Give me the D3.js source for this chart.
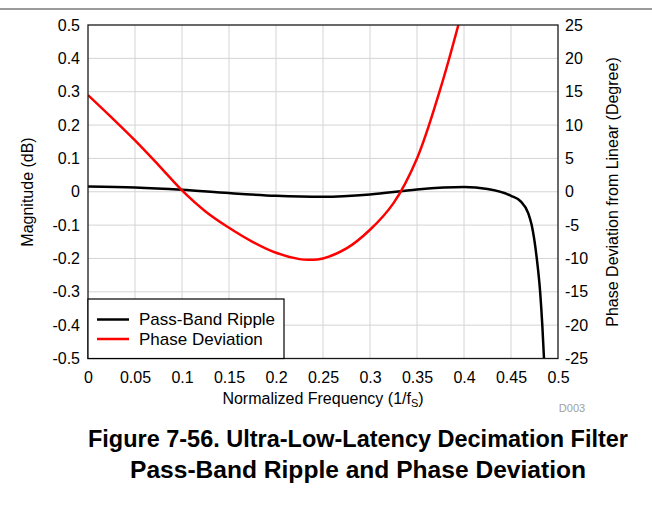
<!DOCTYPE html>
<html>
<head>
<meta charset="utf-8">
<script src="https://cdn.jsdelivr.net/npm/d3@7"></script>
<style>
  html, body { margin: 0; padding: 0; background: #fff; }
  svg { display: block; font-family: "Liberation Sans", Arial, Helvetica, sans-serif; }
</style>
</head>
<body>
<svg id="chart" width="652" height="512"></svg>
<script>
// ---- Data ----
const xTickValues = [0, 0.05, 0.1, 0.15, 0.2, 0.25, 0.3, 0.35, 0.4, 0.45, 0.5];
const xTickLabels = ["0", "0.05", "0.1", "0.15", "0.2", "0.25", "0.3", "0.35", "0.4", "0.45", "0.5"];
const yLeftTickValues = [-0.5, -0.4, -0.3, -0.2, -0.1, 0, 0.1, 0.2, 0.3, 0.4, 0.5];
const yLeftTickLabels = ["-0.5", "-0.4", "-0.3", "-0.2", "-0.1", "0", "0.1", "0.2", "0.3", "0.4", "0.5"];
const yRightTickValues = [-25, -20, -15, -10, -5, 0, 5, 10, 15, 20, 25];
const yRightTickLabels = ["-25", "-20", "-15", "-10", "-5", "0", "5", "10", "15", "20", "25"];

// Pass-band ripple (dB) vs normalized frequency
const rippleFreq = [0, 0.05, 0.1, 0.15, 0.2, 0.25, 0.3, 0.35, 0.4, 0.425, 0.45, 0.46, 0.4684, 0.472, 0.4773, 0.481, 0.4833, 0.4851];
const rippleDb   = [0.016, 0.013, 0.006, -0.004, -0.012, -0.015, -0.008, 0.007, 0.014, 0.008, -0.012, -0.028, -0.065, -0.10, -0.197, -0.30, -0.40, -0.5];

// Phase deviation from linear (degree) vs normalized frequency
const phaseFreq = [0, 0.025, 0.05, 0.075, 0.1, 0.125, 0.15, 0.175, 0.2, 0.225, 0.235, 0.25, 0.275, 0.3, 0.325, 0.35, 0.375, 0.394];
const phaseDeg  = [14.5, 11.15, 7.7, 4.0, 0.2, -2.95, -5.4, -7.5, -9.15, -10.1, -10.2, -10.0, -8.5, -5.7, -1.7, 5.0, 15.5, 25];

const seriesNames = ["Pass-Band Ripple", "Phase Deviation"];
const seriesColors = ["#000000", "#ff0000"];

// ---- Layout ----
const svg = d3.select("#chart");
const plot = { left: 88, right: 558, top: 25, bottom: 358.5 };

const x = d3.scaleLinear().domain([0, 0.5]).range([plot.left, plot.right]);
const yL = d3.scaleLinear().domain([-0.5, 0.5]).range([plot.bottom, plot.top]);
const yR = d3.scaleLinear().domain([-25, 25]).range([plot.bottom, plot.top]);

// top rule
svg.append("line").attr("x1", 0).attr("x2", 652).attr("y1", 9).attr("y2", 9)
  .attr("stroke", "#7a7a7a").attr("stroke-width", 1.5);

// grid
const grid = svg.append("g");
grid.selectAll(".vg").data(xTickValues.slice(1, -1)).enter().append("line")
  .attr("x1", d => x(d)).attr("x2", d => x(d))
  .attr("y1", plot.top).attr("y2", plot.bottom)
  .attr("stroke", "#d4d4d4").attr("stroke-width", 1);
grid.selectAll(".hg").data(yLeftTickValues.slice(1, -1)).enter().append("line")
  .attr("x1", plot.left).attr("x2", plot.right)
  .attr("y1", d => yL(d)).attr("y2", d => yL(d))
  .attr("stroke", "#d4d4d4").attr("stroke-width", 1);

// axes (labels only)
const fontSize = 16;
const axL = svg.append("g").attr("transform", `translate(${plot.left},0)`)
  .call(d3.axisLeft(yL).tickValues(yLeftTickValues).tickSize(0).tickPadding(8)
    .tickFormat((d, i) => yLeftTickLabels[i]));
const axR = svg.append("g").attr("transform", `translate(${plot.right},0)`)
  .call(d3.axisRight(yR).tickValues(yRightTickValues).tickSize(0).tickPadding(7)
    .tickFormat((d, i) => yRightTickLabels[i]));
const axB = svg.append("g").attr("transform", `translate(0,${plot.bottom})`)
  .call(d3.axisBottom(x).tickValues(xTickValues).tickSize(0).tickPadding(13)
    .tickFormat((d, i) => xTickLabels[i]));
[axL, axR, axB].forEach(a => {
  a.select(".domain").remove();
  a.selectAll("text").attr("font-size", fontSize).attr("fill", "#000")
    .attr("font-family", "'Liberation Sans', Arial, sans-serif");
});

// clip
svg.append("clipPath").attr("id", "clip").append("rect")
  .attr("x", plot.left).attr("y", plot.top)
  .attr("width", plot.right - plot.left).attr("height", plot.bottom - plot.top);

const lineRipple = d3.line().x(d => x(d[0])).y(d => yL(d[1])).curve(d3.curveMonotoneX);
const linePhase = d3.line().x(d => x(d[0])).y(d => yR(d[1])).curve(d3.curveCatmullRom.alpha(0.5));

const gLines = svg.append("g").attr("clip-path", "url(#clip)");
gLines.append("path").datum(d3.zip(rippleFreq, rippleDb))
  .attr("d", lineRipple).attr("fill", "none")
  .attr("stroke", seriesColors[0]).attr("stroke-width", 2.5);
gLines.append("path").datum(d3.zip(phaseFreq, phaseDeg))
  .attr("d", linePhase).attr("fill", "none")
  .attr("stroke", seriesColors[1]).attr("stroke-width", 2.5);

// plot border
svg.append("rect").attr("x", plot.left).attr("y", plot.top)
  .attr("width", plot.right - plot.left).attr("height", plot.bottom - plot.top)
  .attr("fill", "none").attr("stroke", "#1a1a1a").attr("stroke-width", 1.3);

// legend
const leg = svg.append("g");
leg.append("rect").attr("x", plot.left).attr("y", 299)
  .attr("width", 284 - plot.left).attr("height", plot.bottom - 299)
  .attr("fill", "#fff").attr("stroke", "#000").attr("stroke-width", 1.2);
seriesNames.forEach((name, i) => {
  const yy = 319.5 + i * 19.5;
  leg.append("line").attr("x1", 97).attr("x2", 129).attr("y1", yy).attr("y2", yy)
    .attr("stroke", seriesColors[i]).attr("stroke-width", 2.5);
  leg.append("text").attr("x", 139).attr("y", yy).attr("dy", "0.35em")
    .attr("font-size", 17).attr("fill", "#000").text(name);
});

// axis titles
const xt = svg.append("text").attr("x", 323).attr("y", 404).attr("text-anchor", "middle")
  .attr("font-size", 16).attr("fill", "#000");
xt.append("tspan").text("Normalized Frequency (1/f");
xt.append("tspan").attr("font-size", 11).attr("dy", 3).text("S");
xt.append("tspan").attr("dy", -3).text(")");

svg.append("text").attr("transform", "translate(33,192) rotate(-90)")
  .attr("text-anchor", "middle").attr("font-size", 16).attr("fill", "#000")
  .text("Magnitude (dB)");
svg.append("text").attr("transform", "translate(618,192) rotate(-90)")
  .attr("text-anchor", "middle").attr("font-size", 16).attr("fill", "#000")
  .text("Phase Deviation from Linear (Degree)");

svg.append("text").attr("x", 572).attr("y", 412).attr("text-anchor", "middle")
  .attr("font-size", 11).attr("fill", "#a0a0a0").text("D003");

// figure caption
svg.append("text").attr("x", 358).attr("y", 447).attr("text-anchor", "middle")
  .attr("font-size", 23).attr("font-weight", "bold").attr("fill", "#000")
  .attr("textLength", 540).attr("lengthAdjust", "spacingAndGlyphs")
  .text("Figure 7-56. Ultra-Low-Latency Decimation Filter");
svg.append("text").attr("x", 358).attr("y", 478).attr("text-anchor", "middle")
  .attr("font-size", 23).attr("font-weight", "bold").attr("fill", "#000")
  .attr("textLength", 456).attr("lengthAdjust", "spacingAndGlyphs")
  .text("Pass-Band Ripple and Phase Deviation");
</script>
</body>
</html>
